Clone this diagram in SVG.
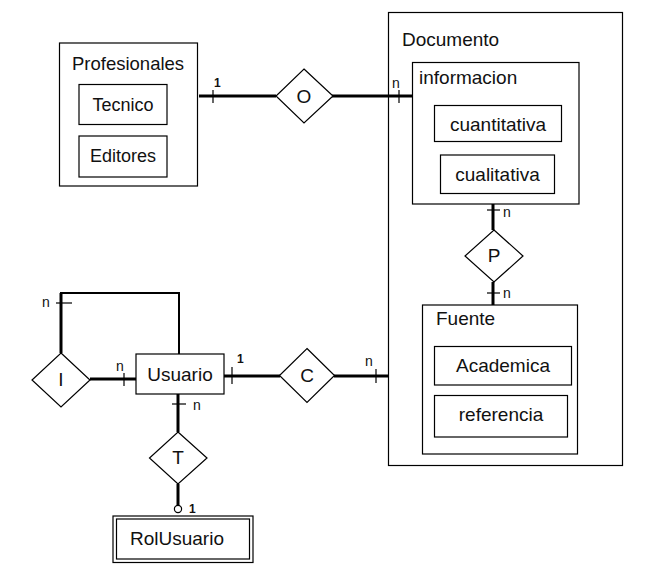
<svg xmlns="http://www.w3.org/2000/svg" width="666" height="582" viewBox="0 0 666 582">
<style>
.box{fill:none;stroke:#000;stroke-width:1.2}
.dia{fill:#fff;stroke:#000;stroke-width:1.2}
.t{font-family:"Liberation Sans",Arial,sans-serif;font-size:19px;fill:#111}
.tm{font-family:"Liberation Sans",Arial,sans-serif;font-size:19px;fill:#111;text-anchor:middle}
.c{font-family:"Liberation Sans",Arial,sans-serif;font-size:14px;fill:#111}
.c1{font-family:"Liberation Sans",Arial,sans-serif;font-size:12px;font-weight:bold;fill:#111}
.thick{stroke:#000;stroke-width:3;fill:none}
.tick{stroke:#000;stroke-width:1.2;fill:none}
</style>
<rect width="666" height="582" fill="#fff"/>
<g id="connectors">
  <line class="thick" x1="199" y1="96" x2="276" y2="96"/>
  <line class="tick" x1="213" y1="90" x2="213" y2="103"/>
  <line class="thick" x1="332" y1="96" x2="413" y2="96"/>
  <line class="tick" x1="399" y1="90" x2="399" y2="103"/>
  <line class="thick" x1="493" y1="204" x2="493" y2="230"/>
  <line class="tick" x1="487" y1="210" x2="500" y2="210"/>
  <line class="thick" x1="493" y1="282" x2="493" y2="305"/>
  <line class="tick" x1="487" y1="293" x2="500" y2="293"/>
  <line class="thick" x1="224" y1="376" x2="280" y2="376"/>
  <line class="tick" x1="232" y1="367" x2="232" y2="384"/>
  <line class="thick" x1="334" y1="376" x2="388" y2="376"/>
  <line class="tick" x1="376" y1="369" x2="376" y2="383"/>
  <line class="thick" x1="90" y1="379" x2="136" y2="379"/>
  <line class="tick" x1="124" y1="373" x2="124" y2="386"/>
  <line class="thick" x1="61" y1="353" x2="61" y2="293"/>
  <polyline points="60,293 179,293 179,354" fill="none" stroke="#000" stroke-width="2"/>
  <line class="tick" x1="56" y1="303" x2="72" y2="303"/>
  <line class="thick" x1="178" y1="394" x2="178" y2="432"/>
  <line class="tick" x1="172" y1="404" x2="186" y2="404"/>
  <line class="thick" x1="178" y1="484" x2="178" y2="505"/>
  <circle cx="178" cy="509" r="3.6" fill="#fff" stroke="#000" stroke-width="1.2"/>
  <text class="c1" x="214" y="87">1</text>
  <text class="c" x="392" y="88">n</text>
  <text class="c" x="503" y="217">n</text>
  <text class="c" x="503" y="298">n</text>
  <text class="c1" x="237" y="363">1</text>
  <text class="c" x="365" y="366">n</text>
  <text class="c" x="116" y="371">n</text>
  <text class="c" x="42" y="307">n</text>
  <text class="c" x="193" y="410">n</text>
  <text class="c1" x="189" y="513">1</text>
</g>
<g id="Profesionales">
  <rect class="box" x="59.5" y="43" width="138" height="143"/>
  <text class="t" x="72" y="70" style="font-size:18.5px">Profesionales</text>
</g>
<g id="Tecnico">
  <rect class="box" x="79" y="84.5" width="88" height="40"/>
  <text class="tm" x="123" y="111" style="font-size:18px">Tecnico</text>
</g>
<g id="Editores">
  <rect class="box" x="79" y="136" width="88" height="41"/>
  <text class="tm" x="123" y="162" style="font-size:18px">Editores</text>
</g>
<g id="O">
  <polygon class="dia" points="304,69 333,96 304,123 276,96"/>
  <text class="tm" x="304" y="103">O</text>
</g>
<g id="Documento">
  <rect class="box" x="388.5" y="12.5" width="234" height="453"/>
  <text class="t" x="402" y="46">Documento</text>
</g>
<g id="informacion">
  <rect class="box" x="412.5" y="62.5" width="166.5" height="141.5"/>
  <text class="t" x="419" y="84">informacion</text>
</g>
<g id="cuantitativa">
  <rect class="box" x="434.5" y="105.5" width="127" height="36"/>
  <text class="tm" x="498" y="131">cuantitativa</text>
</g>
<g id="cualitativa">
  <rect class="box" x="440.5" y="155" width="114" height="38.5"/>
  <text class="tm" x="497.5" y="181">cualitativa</text>
</g>
<g id="P">
  <polygon class="dia" points="494,230 523,256 494,282 465,256"/>
  <text class="tm" x="494" y="262">P</text>
</g>
<g id="Fuente">
  <rect class="box" x="422.5" y="305" width="155" height="149"/>
  <text class="t" x="436" y="325">Fuente</text>
</g>
<g id="Academica">
  <rect class="box" x="434.5" y="346.5" width="137" height="38.5"/>
  <text class="tm" x="503" y="372">Academica</text>
</g>
<g id="referencia">
  <rect class="box" x="434.5" y="395.5" width="133" height="41.5"/>
  <text class="tm" x="501" y="421">referencia</text>
</g>
<g id="Usuario">
  <rect class="box" x="136" y="354" width="88" height="40"/>
  <text class="tm" x="180" y="381">Usuario</text>
</g>
<g id="C">
  <polygon class="dia" points="307,348.5 334.5,375.5 307,402.5 279.5,375.5"/>
  <text class="tm" x="307" y="382">C</text>
</g>
<g id="I">
  <polygon class="dia" points="61,353 90,380 61,407 32,380"/>
  <text class="tm" x="61" y="386">I</text>
</g>
<g id="T">
  <polygon class="dia" points="178,432 207,458 178,484 149.5,458"/>
  <text class="tm" x="178" y="464">T</text>
</g>
<g id="RolUsuario">
  <rect class="box" x="113" y="516" width="140" height="46.5"/>
  <rect class="box" x="116.5" y="519" width="133" height="40"/>
  <text class="t" x="130" y="545">RolUsuario</text>
</g>
</svg>
